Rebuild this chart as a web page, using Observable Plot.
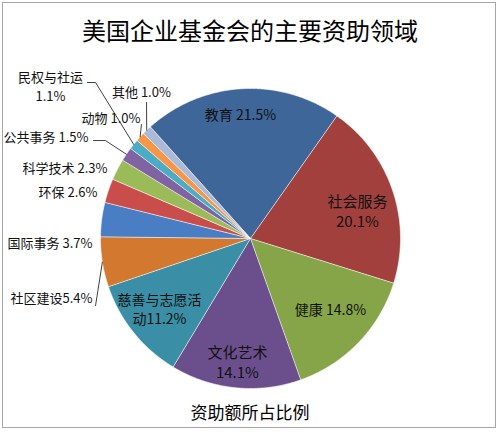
<!DOCTYPE html>
<html>
<head>
<meta charset="utf-8">
<script src="https://cdn.jsdelivr.net/npm/d3@7"></script>
<script src="https://cdn.jsdelivr.net/npm/@observablehq/plot@0.6"></script>
<style>
  body { margin: 0; background: #fff; }
  #chart { position: relative; width: 500px; height: 432px; font-family: "Noto Sans CJK SC", "Noto Sans", sans-serif; color: #000; }
  .frame { position: absolute; left: 2px; top: 2px; width: 494px; height: 426px; border: 1px solid #a6a6a6; box-sizing: border-box; }
  .title { position: absolute; top: 12px; left: 0; width: 500px; text-align: center; font-size: 24px; line-height: 36px; }
  .caption { position: absolute; top: 398px; left: 0; width: 500px; text-align: center; font-size: 17px; line-height: 28px; }
  #plot { position: absolute; top: 48px; left: 0; }
</style>
</head>
<body>
<div id="chart">
  <div class="frame"></div>
  <div class="title">美国企业基金会的主要资助领域</div>
  <div id="plot"></div>
  <div class="caption">资助额所占比例</div>
</div>
<script>
// ---- data ----
const categories = ["教育", "社会服务", "健康", "文化艺术", "慈善与志愿活动", "社区建设", "国际事务", "环保", "科学技术", "公共事务", "民权与社运", "动物", "其他"];
const shares = [21.5, 20.1, 14.8, 14.1, 11.2, 5.4, 3.7, 2.6, 2.3, 1.5, 1.1, 1.0, 1.0];

// ---- styles / layout ----
const palette = ["#3E6698", "#A1403D", "#86A549", "#6A4F8C", "#3A8EA5", "#D2782F", "#4A7EC4", "#C94E4B", "#9BBB59", "#8064A2", "#4BACC6", "#F79646", "#AABAD8"];
const startDeg = -42;
const labelLayout = [
  {x: -0.067, y: 0.82, anchor: "middle", sep: " ", split: 0, size: 14},
  {x: 0.713, y: 0.24, anchor: "middle", sep: " ", split: 4, size: 15},
  {x: 0.533, y: -0.48, anchor: "middle", sep: " ", split: 0, size: 14},
  {x: -0.087, y: -0.767, anchor: "middle", sep: " ", split: 4, size: 15},
  {x: -0.607, y: -0.413, anchor: "middle", sep: "", split: 6, size: 14},
  {x: -1.053, y: -0.4, anchor: "end", sep: "", split: 0, size: 13, leader: [[-1.033, -0.447]]},
  {x: -1.053, y: -0.033, anchor: "end", sep: " ", split: 0, size: 13},
  {x: -1.02, y: 0.307, anchor: "end", sep: " ", split: 0, size: 13},
  {x: -0.953, y: 0.467, anchor: "end", sep: " ", split: 0, size: 13},
  {x: -1.08, y: 0.673, anchor: "end", sep: " ", split: 0, size: 13, leader: [[-1.047, 0.653], [-0.967, 0.653]]},
  {x: -1.333, y: 1.073, anchor: "middle", sep: " ", split: 5, size: 13, leader: [[-1.087, 1.04], [-1.033, 1.04]]},
  {x: -0.733, y: 0.8, anchor: "end", sep: " ", split: 0, size: 13, leader: [[-0.727, 0.76]]},
  {x: -0.727, y: 0.973, anchor: "middle", sep: " ", split: 0, size: 13, leader: [[-0.693, 0.907]]}
];
const lineGap = 0.13;

// ---- build geometry from data ----
const rows = categories.map((name, i) => ({name, share: shares[i], pct: shares[i].toFixed(1) + "%"}));
const arcs = d3.pie().sort(null).value(d => d.share)
  .startAngle(startDeg * Math.PI / 180)
  .endAngle((startDeg + 360) * Math.PI / 180)(rows);

const slicePts = [];
arcs.forEach(a => {
  const n = Math.max(2, Math.ceil((a.endAngle - a.startAngle) / (Math.PI / 360)));
  slicePts.push({name: a.data.name, u: 0, v: 0});
  for (let k = 0; k <= n; k++) {
    const t = a.startAngle + (a.endAngle - a.startAngle) * k / n;
    slicePts.push({name: a.data.name, u: Math.sin(t), v: Math.cos(t)});
  }
});

const textRows = [];
const leaderPts = [];
arcs.forEach((a, i) => {
  const L = labelLayout[i];
  const full = a.data.name + L.sep + a.data.pct;
  const lines = L.split ? [full.slice(0, L.split).trim(), full.slice(L.split).trim()] : [full];
  lines.forEach((t, j) => textRows.push({u: L.x, v: L.y - j * lineGap, text: t, anchor: L.anchor, size: L.size}));
  if (L.leader) {
    L.leader.forEach(p => leaderPts.push({name: a.data.name, u: p[0], v: p[1]}));
    const mid = (a.startAngle + a.endAngle) / 2;
    leaderPts.push({name: a.data.name, u: Math.sin(mid), v: Math.cos(mid)});
  }
});

const chart = Plot.plot({
  width: 500,
  height: 344,
  margin: 0,
  x: {domain: [-1, 1], range: [100, 400], axis: null},
  y: {domain: [-1, 1], range: [340, 40], axis: null},
  color: {domain: categories, range: palette},
  style: {background: "transparent", overflow: "visible", fontFamily: "'Noto Sans CJK SC', 'Noto Sans', sans-serif"},
  marks: [
    Plot.line(slicePts, {x: "u", y: "v", z: "name", fill: "name", stroke: "#ffffff", strokeWidth: 0.7, strokeOpacity: 0.8, curve: "linear-closed"}),
    Plot.line(leaderPts, {x: "u", y: "v", z: "name", stroke: "#404040", strokeWidth: 1}),
    Plot.text(textRows.filter(d => d.anchor === "middle"), {x: "u", y: "v", text: "text", fontSize: "size", textAnchor: "middle", fill: "#111"}),
    Plot.text(textRows.filter(d => d.anchor === "end"), {x: "u", y: "v", text: "text", fontSize: "size", textAnchor: "end", fill: "#111"})
  ]
});
document.getElementById("plot").appendChild(chart);
</script>
</body>
</html>
